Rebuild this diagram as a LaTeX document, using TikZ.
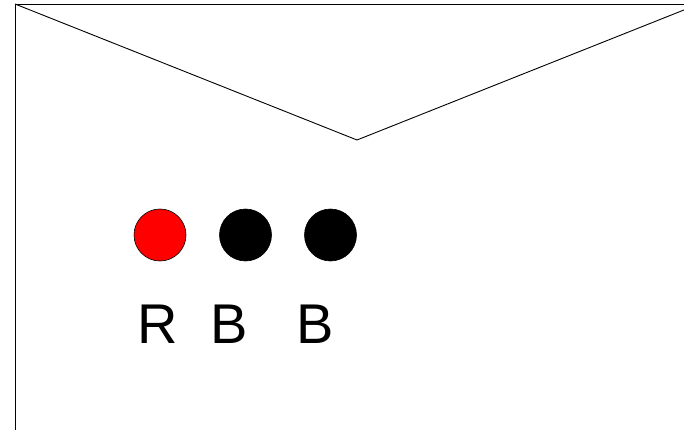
\documentclass[tikz,border=0pt]{standalone}
\usepackage{fontspec}
\setmainfont{Liberation Sans}
\begin{document}
\begin{tikzpicture}[x=1pt,y=-1pt,
  edge/.style={draw=black,line width=0.9pt},
  dot/.style={circle,minimum size=52pt,inner sep=0pt,draw=black,line width=0.6pt},
  lbl/.style={anchor=base west,inner sep=0pt,font=\fontsize{56}{60}\selectfont}]
\useasboundingbox (0,0) rectangle (684,430);
\clip (0,0) rectangle (684,430);
\coordinate (tl) at (15,4);
\coordinate (tr) at (699,4);
\coordinate (bl) at (15,460);
\coordinate (br) at (699,460);
\coordinate (tip) at (357,140);
\draw[edge] (bl) -- (tl) -- (tr) -- (br);
\draw[edge] (tl) -- (tip) -- (tr);
\node[dot,fill=red] (c1) at (160,235) {};
\node[dot,fill=black] (c2) at (245.5,235) {};
\node[dot,fill=black] (c3) at (330.5,235) {};
\node[lbl] (l1) at (137.5,343) {R};
\node[lbl] (l2) at (210,343) {B};
\node[lbl] (l3) at (296,343) {B};
\end{tikzpicture}
\end{document}
